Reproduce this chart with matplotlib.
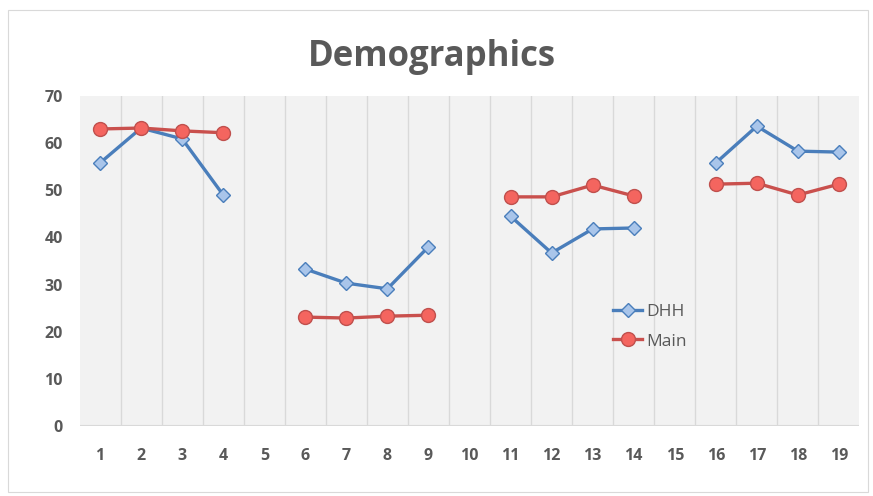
import numpy as np
import matplotlib
matplotlib.use("Agg")
import matplotlib.pyplot as plt
from matplotlib.patches import Rectangle

plt.rcParams['font.family'] = ['Open Sans', 'DejaVu Sans']

categories = list(range(1, 20))
dhh = [55.8, 63.2, 60.9, 49.0, np.nan, 33.3, 30.3, 29.1, 38.0, np.nan,
       44.5, 36.7, 41.8, 42.0, np.nan, 55.8, 63.6, 58.3, 58.1]
main = [63.0, 63.2, 62.6, 62.2, np.nan, 23.1, 22.9, 23.3, 23.5, np.nan,
        48.6, 48.6, 51.1, 48.8, np.nan, 51.3, 51.5, 49.0, 51.3]

fig = plt.figure(figsize=(8.73, 4.96), dpi=100)
fig.patches.append(Rectangle((8 / 873, 4 / 496), 860 / 873, 482 / 496,
                             transform=fig.transFigure, fill=False,
                             edgecolor='#d9d9d9', linewidth=0.8))
ax = fig.add_axes([0.0911, 0.1411, 0.8934, 0.6654])
ax.set_facecolor('#f2f2f2')

x = np.array(categories)
ax.plot(x, dhh, color='#4a7ebb', linewidth=2.4, marker='D', markersize=7,
        markerfacecolor='#a9c5ea', markeredgecolor='#4a7ebb',
        markeredgewidth=1.0, label='DHH', zorder=3)
ax.plot(x, main, color='#c9504d', linewidth=2.4, marker='o', markersize=10,
        markerfacecolor='#f4655f', markeredgecolor='#c0504d',
        markeredgewidth=1.0, label='Main', zorder=3)

ax.set_xlim(0.5, 19.5)
ax.set_ylim(0, 70)
ax.set_xticks(x)
ax.set_xticklabels([str(c) for c in categories])
ax.set_yticks(range(0, 71, 10))
for b in np.arange(1.5, 19.5, 1.0):
    ax.axvline(b, color='#d9d9d9', linewidth=1.0, zorder=1)
ax.axhline(0, color='#d9d9d9', linewidth=1.5, zorder=1)

for s in ax.spines.values():
    s.set_visible(False)
ax.tick_params(length=0, colors='#595959', labelsize=11.5, pad=16)
ax.tick_params(axis='y', pad=12)
for lab in ax.get_xticklabels() + ax.get_yticklabels():
    lab.set_fontweight('bold')

fig.text(0.495, 0.885, 'Demographics', ha='center', va='center',
         fontsize=25, fontweight='bold', color='#595959')

leg = ax.legend(loc='upper left', bbox_to_anchor=(0.675, 0.39), frameon=False,
                fontsize=12.5, handlelength=1.7, handletextpad=0.2,
                labelspacing=0.75, borderaxespad=0)
for t in leg.get_texts():
    t.set_color('#595959')

fig.savefig('out.png', dpi=100)
